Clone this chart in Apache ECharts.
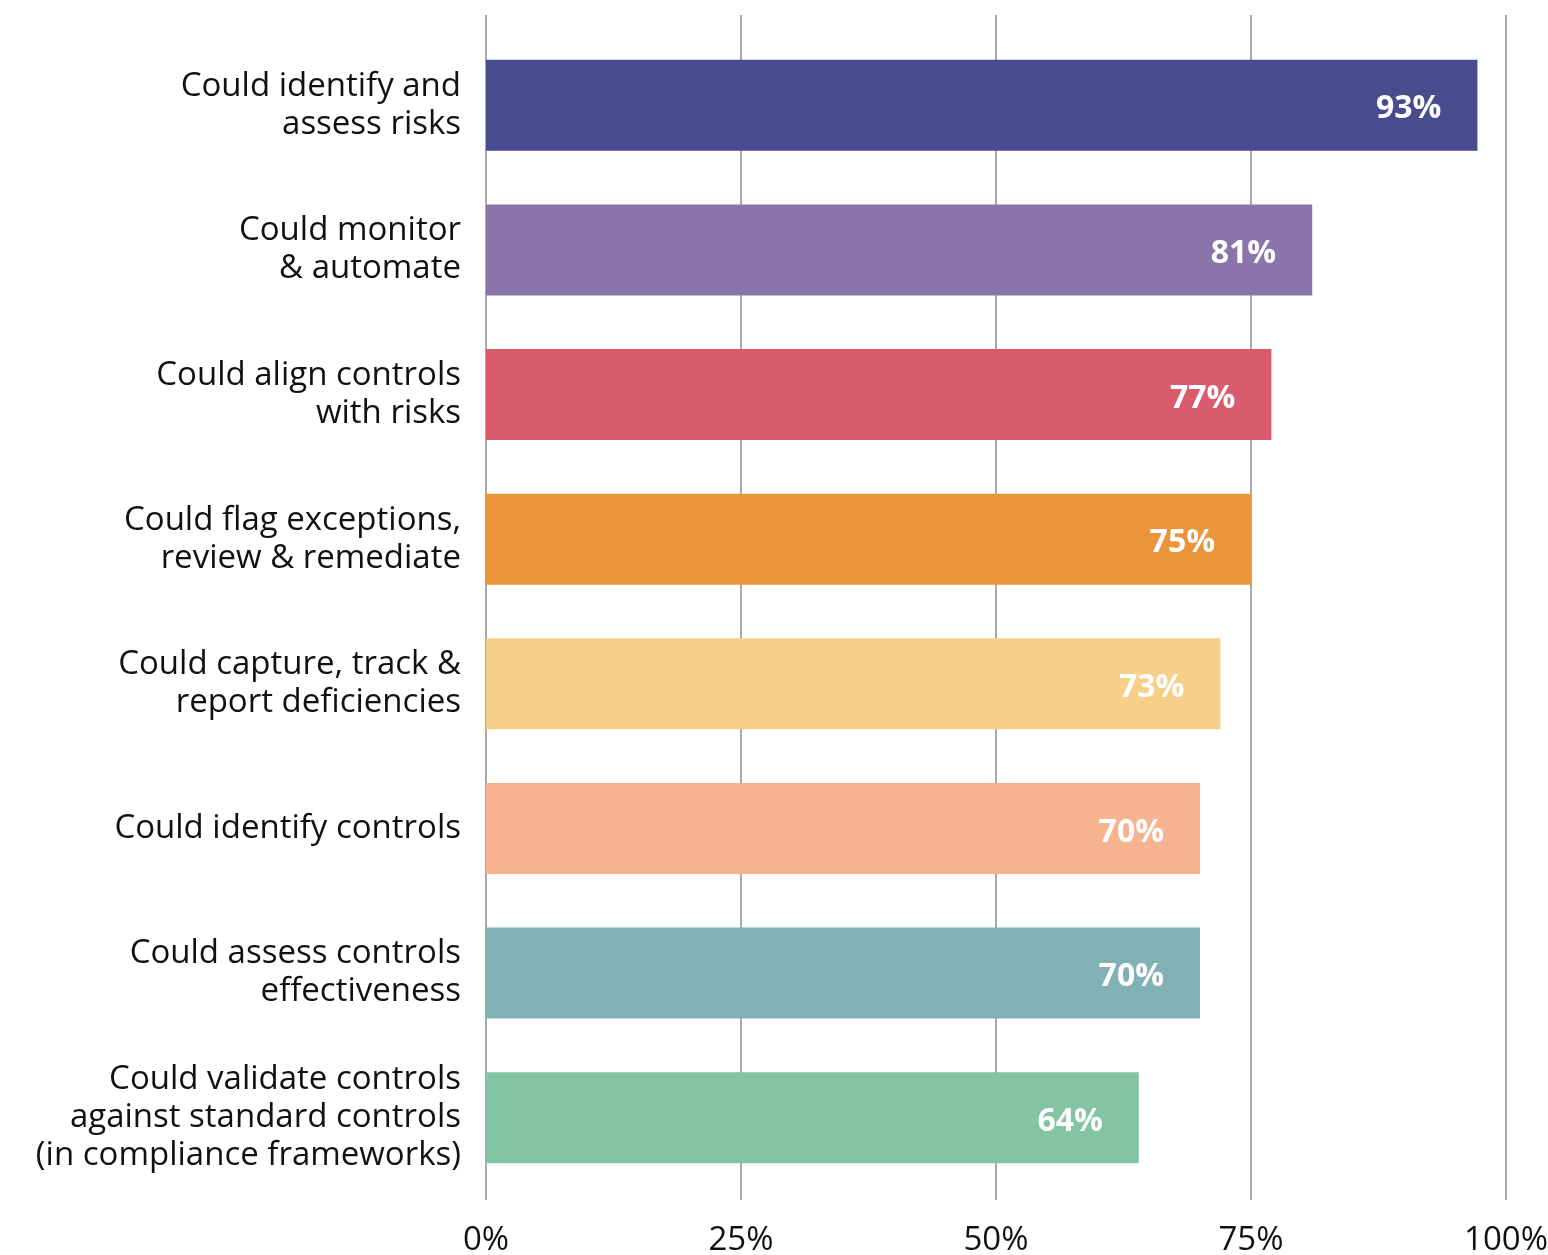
<!DOCTYPE html>
<html>
<head>
<meta charset="utf-8">
<script src="https://cdn.jsdelivr.net/npm/echarts@6/dist/echarts.min.js"></script>
<style>
  html, body { margin: 0; padding: 0; background: #fff; }
  #chart { width: 1548px; height: 1255px; }
</style>
</head>
<body>
<div id="chart"></div>
<script>
// 分类
var categories = [
  'Could identify and\nassess risks',
  'Could monitor\n& automate',
  'Could align controls\nwith risks',
  'Could flag exceptions,\nreview & remediate',
  'Could capture, track &\nreport deficiencies',
  'Could identify controls',
  'Could assess controls\neffectiveness',
  'Could validate controls\nagainst standard controls\n(in compliance frameworks)'
];
// 柱长 (图上量得)
var barValues = [97.2, 81, 77, 75, 72, 70, 70, 64];
// 柱上文字
var barLabels = ['93%', '81%', '77%', '75%', '73%', '70%', '70%', '64%'];
var barColors = ['#484c8c', '#8a74a9', '#d95b6e', '#ec943a', '#f7cf89', '#f7b28f', '#82b1b5', '#82c4a3'];
var tickValues = [0, 25, 50, 75, 100];

var chart = echarts.init(document.getElementById('chart'));
var option = {
  animation: false,
  textStyle: { fontFamily: '"Open Sans", sans-serif' },
  grid: [
    // 网格线
    { left: 486, right: 42, top: 15, bottom: 55, outerBoundsMode: 'none' },
    // 柱子
    { left: 486, right: 42, top: 33, bottom: 65, outerBoundsMode: 'none' }
  ],
  xAxis: [
    {
      gridIndex: 0,
      type: 'value',
      min: tickValues[0],
      max: tickValues[tickValues.length - 1],
      interval: 25,
      axisLine: { show: false },
      axisTick: { show: false },
      splitLine: { show: true, lineStyle: { color: '#8c8c8c', width: 1.5 } },
      axisLabel: {
        formatter: '{value}%',
        fontSize: 33,
        color: '#111',
        margin: 24
      }
    },
    {
      gridIndex: 1,
      type: 'value',
      min: 0,
      max: 100,
      show: false
    }
  ],
  yAxis: [
    { gridIndex: 0, type: 'value', show: false },
    {
      gridIndex: 1,
      type: 'category',
      inverse: true,
      data: categories,
      axisLine: { show: false },
      axisTick: { show: false },
      axisLabel: {
        fontSize: 33,
        lineHeight: 38,
        color: '#111',
        align: 'right',
        margin: 25
      }
    }
  ],
  series: [
    {
      type: 'bar',
      xAxisIndex: 1,
      yAxisIndex: 1,
      barWidth: 91,
      data: barValues.map(function (v, i) {
        return { value: v, itemStyle: { color: barColors[i] } };
      }),
      label: {
        show: true,
        position: 'insideRight',
        distance: 36,
        offset: [0, 4],
        color: '#fff',
        fontSize: 32,
        fontWeight: 'bold',
        formatter: function (p) { return barLabels[p.dataIndex]; }
      }
    }
  ]
};
chart.setOption(option);

window.addEventListener('resize', function () {
  chart.resize();
});
</script>
</body>
</html>
